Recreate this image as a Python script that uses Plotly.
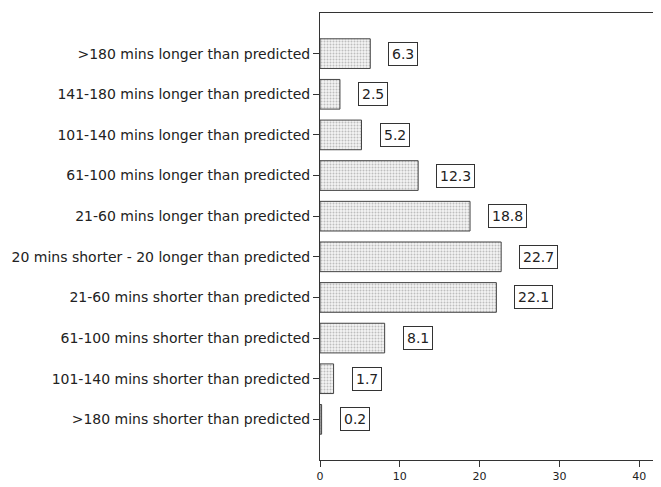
import plotly.graph_objects as go

categories = [
    ">180 mins shorter than predicted",
    "101-140 mins shorter than predicted",
    "61-100 mins shorter than predicted",
    "21-60 mins shorter than predicted",
    "20 mins shorter - 20 longer than predicted",
    "21-60 mins longer than predicted",
    "61-100 mins longer than predicted",
    "101-140 mins longer than predicted",
    "141-180 mins longer than predicted",
    ">180 mins longer than predicted",
]
values = [0.2, 1.7, 8.1, 22.1, 22.7, 18.8, 12.3, 5.2, 2.5, 6.3]
tick_vals = [0, 10, 20, 30, 40]

fig = go.Figure()
fig.add_trace(go.Bar(
    y=categories, x=values, orientation="h", width=0.73,
    marker=dict(color="white", line=dict(color="#444444", width=1),
                pattern=dict(shape=".", fgcolor="#888888", bgcolor="#f4f4f4",
                             size=3, solidity=0.35)),
    hoverinfo="x+y",
))
for c, v in zip(categories, values):
    fig.add_annotation(x=v, y=c, text=f"{v:.1f}", showarrow=False,
                       xanchor="left", xshift=18,
                       bordercolor="#333333", borderwidth=1, borderpad=3,
                       bgcolor="white",
                       font=dict(family="DejaVu Sans", size=14, color="#222222"))

fig.update_layout(
    width=653, height=479,
    margin=dict(l=312, r=4, t=4, b=21),
    paper_bgcolor="white", plot_bgcolor="white",
    showlegend=False,
    font=dict(family="DejaVu Sans", size=14, color="#222222"),
)
fig.update_xaxes(range=[0, 42.1], tickvals=tick_vals, ticks="outside", ticklen=6,
                 tickcolor="#333333", tickfont=dict(size=11),
                 showgrid=False, zeroline=False, showline=True,
                 linecolor="#333333", linewidth=1, mirror=True)
fig.update_yaxes(categoryorder="array", categoryarray=categories,
                 range=[-1, 10], ticks="outside", ticklen=6, tickcolor="#333333",
                 showgrid=False, zeroline=False, showline=True,
                 linecolor="#333333", linewidth=1, mirror=True)
fig.write_html("out.html")
